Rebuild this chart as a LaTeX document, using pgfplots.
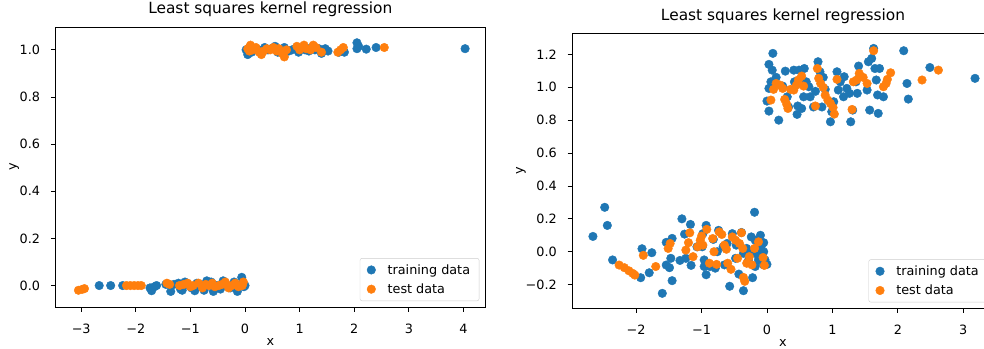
\documentclass[border=0pt]{standalone}
\usepackage{fontspec}
\setmainfont{DejaVu Sans}
\usepackage{pgfplots}
\pgfplotsset{compat=1.18}
\definecolor{tabblue}{HTML}{1F77B4}
\definecolor{taborange}{HTML}{FF7F0E}
\newcommand{\fnt}{\fontsize{12.8}{15.4}\selectfont}
\pgfplotsset{
  lsk/.style={
    scale only axis, axis line style={line width=0.8pt, black},
    tick align=outside, tick pos=left, major tick length=4.5pt,
    every tick/.style={black, line width=0.8pt},
    tick label style={font=\fnt},
    label style={font=\fnt},
    xticklabel style={anchor=base, yshift=-21.5pt, inner sep=0pt},
    yticklabel style={anchor=east, xshift=-10.5pt, inner sep=0pt},
    title={Least squares kernel regression},
    title style={at={(axis description cs:0.5,1)}, anchor=base, yshift=7pt, font=\fontsize{15.4}{18}\selectfont},
    xlabel={x}, ylabel={y},
    xlabel style={at={(axis description cs:0.5,0)}, anchor=base, yshift=-38pt},
    legend cell align=left,
    legend style={at={(1,0)}, anchor=south east, xshift=-6pt, yshift=6pt,
      draw=black!20, rounded corners=2pt, inner xsep=7pt, inner ysep=4pt,
      row sep=4pt, column sep=10pt, font=\fnt},
  },
  trn/.style={only marks, mark=*, mark size=4.3pt, color=tabblue, mark options={draw=tabblue, fill=tabblue, line width=0.4pt}},
  tst/.style={only marks, mark=*, mark size=4.3pt, color=taborange, mark options={draw=taborange, fill=taborange, line width=0.4pt}},
}
\begin{document}
\begin{tikzpicture}
\path[use as bounding box] (0,0) rectangle (984pt,348pt);
\clip (0,0) rectangle (984pt,348pt);
% ---------------- left ----------------
\begin{axis}[lsk, at={(55.3pt,41pt)}, anchor=south west, width=430pt, height=280pt,
  xmin=-3.474, xmax=4.40, ymin=-0.091, ymax=1.097,
  xtick={-3,-2,-1,0,1,2,3,4}, xticklabels={−3,−2,−1,0,1,2,3,4},
  ytick={0,0.2,0.4,0.6,0.8,1.0}, yticklabels={0.0,0.2,0.4,0.6,0.8,1.0},
  ylabel style={at={([xshift=-39pt]axis description cs:0,0.5)}, anchor=base, rotate=0}]
\addplot[trn] coordinates {
(-2.67,0.0) (-2.46,0.0) (-2.24,0.0) (-1.74,-0.01) (-1.71,-0.022) (-1.62,0.0) (-1.66,-0.005)
(-1.45,0.005) (-1.36,-0.025) (-1.30,0.005) (-1.22,0.01) (-1.18,-0.015) (-1.15,-0.02) (-1.10,0.015)
(-1.02,0.0) (-0.98,-0.01) (-0.92,-0.022) (-0.88,0.01) (-0.80,0.0) (-0.75,-0.02) (-0.70,0.02)
(-0.62,0.015) (-0.58,-0.025) (-0.52,0.0) (-0.45,-0.015) (-0.40,0.02) (-0.33,0.0) (-0.27,-0.01)
(-0.20,0.015) (-0.14,-0.025) (-0.10,0.0) (-0.06,0.035) (-0.04,0.01) (-0.02,-0.005) (0.0,0.0)
(0.02,1.0) (0.05,0.98) (0.08,1.01) (0.12,0.99) (0.18,1.005) (0.25,1.0) (0.30,0.985) (0.36,1.01)
(0.42,1.0) (0.48,1.005) (0.55,1.015) (0.60,0.99) (0.66,1.0) (0.72,1.01) (0.80,0.995) (0.86,1.0)
(0.92,1.005) (0.98,0.99) (1.05,1.01) (1.10,1.0) (1.17,0.995) (1.22,1.01) (1.28,1.0) (1.35,1.005)
(1.40,0.985) (1.47,1.005) (1.52,0.995) (1.72,0.99) (1.79,1.0) (1.82,0.99) (2.05,1.03) (2.05,1.005)
(2.08,1.015) (2.22,1.003) (2.40,1.01) (4.03,1.005)
};
\addlegendentry{training data}
\addplot[tst] coordinates {
(-3.05,-0.02) (-2.98,-0.016) (-2.94,-0.013) (-2.17,0.0) (-2.10,0.0) (-2.03,0.0) (-1.96,0.0) (-1.90,0.0)
(-1.43,0.01) (-1.38,0.005) (-1.20,0.0) (-1.12,0.005) (-1.05,0.01) (-1.0,-0.005) (-0.95,0.0)
(-0.85,0.01) (-0.78,-0.01) (-0.72,0.005) (-0.66,0.0) (-0.6,0.01) (-0.55,-0.005) (-0.48,0.0)
(-0.42,0.005) (-0.36,0.015) (-0.30,-0.01) (-0.24,0.0) (-0.18,0.01) (-0.12,-0.005) (-0.05,0.0) (-0.03,0.015)
(0.05,1.005) (0.08,0.995) (0.10,1.02) (0.14,1.0) (0.20,1.01) (0.26,0.99) (0.30,0.98) (0.34,0.995)
(0.40,1.005) (0.46,1.0) (0.52,1.01) (0.58,0.995) (0.62,1.005) (0.68,0.985) (0.72,0.97) (0.76,1.0)
(0.95,1.015) (1.0,1.0) (1.08,1.02) (1.12,1.005) (1.20,1.0) (1.25,1.02) (1.30,1.01) (1.40,0.99)
(1.70,0.99) (1.75,1.0) (1.80,1.01) (2.55,1.01)
};
\addlegendentry{test data}
\end{axis}
% ---------------- right ----------------
\begin{axis}[lsk, at={(572pt,39.7pt)}, anchor=south west, width=422pt, height=275pt,
  xmin=-2.98, xmax=3.47, ymin=-0.344, ymax=1.328,
  xtick={-2,-1,0,1,2,3}, xticklabels={−2,−1,0,1,2,3},
  ytick={-0.2,0,0.2,0.4,0.6,0.8,1.0,1.2}, yticklabels={−0.2,0.0,0.2,0.4,0.6,0.8,1.0,1.2},
  ylabel style={at={([xshift=-49pt]axis description cs:0,0.5)}, anchor=base, rotate=0}]
\addplot[trn] coordinates {
(-2.66,0.093) (-2.48,0.27) (-2.44,0.16) (-2.36,-0.05) (-1.91,0.018) (-1.76,-0.006) (-1.93,-0.158)
(-1.80,-0.128) (-1.60,-0.253) (-1.45,-0.176) (-1.54,-0.081) (-1.49,-0.097) (-1.47,-0.04) (-1.54,0.057)
(-1.45,0.081) (-1.33,-0.053) (-1.30,0.20) (-1.17,0.166) (-1.26,0.107) (-1.16,-0.083) (-1.24,-0.04)
(-1.07,0.03) (-0.99,0.03) (-0.93,0.16) (-0.98,0.11) (-0.96,-0.05) (-0.93,-0.14) (-0.96,-0.09)
(-0.87,-0.09) (-0.82,0.075) (-0.79,-0.10) (-0.76,0.0) (-0.74,0.13) (-0.65,-0.08) (-0.67,0.03)
(-0.61,0.05) (-0.57,-0.21) (-0.53,0.11) (-0.47,0.04) (-0.48,-0.04) (-0.43,-0.136) (-0.39,0.117)
(-0.36,-0.01) (-0.36,-0.237) (-0.28,-0.05) (-0.24,0.09) (-0.22,-0.158) (-0.19,0.24) (-0.18,0.07)
(-0.15,0.01) (-0.13,-0.05) (-0.10,0.10) (-0.08,0.04) (-0.05,0.055) (-0.05,0.0) (-0.03,-0.05)
(0.0,-0.077) (-0.18,-0.09) (-0.23,-0.01) (-0.31,0.02) (-0.05,-0.08) (-0.13,-0.03)
(0.09,1.206) (0.03,1.139) (0.08,1.104) (0.03,0.993) (0.0,0.916) (0.03,0.855) (0.06,1.033) (0.14,1.06)
(0.18,0.80) (0.24,1.007) (0.28,1.098) (0.31,0.942) (0.33,0.88) (0.41,1.104) (0.42,1.033) (0.46,0.835)
(0.47,0.886) (0.49,1.104) (0.53,0.871) (0.56,0.942) (0.57,1.114) (0.60,1.033) (0.64,1.003) (0.66,0.942)
(0.71,0.88) (0.74,0.975) (0.78,1.155) (0.81,1.094) (0.84,0.88) (0.86,1.06) (0.89,0.987) (0.97,0.79)
(0.99,0.851) (1.02,0.912) (1.07,1.094) (1.09,0.983) (1.12,1.033) (1.17,0.942) (1.18,1.064) (1.22,0.993)
(1.26,0.963) (1.28,0.79) (1.31,0.861) (1.36,1.033) (1.38,0.963) (1.40,1.129) (1.42,1.068) (1.53,0.983)
(1.55,1.155) (1.57,0.861) (1.60,1.175) (1.63,1.236) (1.65,1.114) (1.67,1.044) (1.69,0.953) (1.70,0.841)
(1.72,1.114) (1.78,0.942) (2.09,1.222) (2.14,1.023) (2.16,0.928) (2.49,1.12) (3.18,1.054)
};
\addlegendentry{training data}
\addplot[tst] coordinates {
(-2.26,-0.081) (-2.18,-0.097) (-2.11,-0.116) (-2.05,-0.132) (-2.02,-0.142) (-1.89,-0.022) (-1.70,-0.09)
(-1.51,0.02) (-1.48,0.05) (-1.24,0.01) (-1.20,0.055) (-1.18,0.115) (-1.13,-0.03) (-1.06,0.03)
(-1.02,0.07) (-1.00,0.095) (-0.98,0.04) (-0.92,0.136) (-0.88,-0.07) (-0.83,0.08) (-0.81,0.0)
(-0.77,-0.077) (-0.73,0.12) (-0.69,0.105) (-0.65,0.04) (-0.62,0.015) (-0.60,-0.07) (-0.55,-0.107)
(-0.53,0.09) (-0.48,0.07) (-0.45,-0.04) (-0.42,0.05) (-0.39,0.115) (-0.37,0.02) (-0.36,-0.156)
(-0.34,-0.18) (-0.31,-0.07) (-0.27,-0.03) (-0.23,-0.08) (-0.19,0.02) (-0.13,0.06) (-0.06,-0.035) (-0.04,-0.083)
(0.06,0.922) (0.10,0.987) (0.14,1.023) (0.20,1.013) (0.24,0.993) (0.27,0.926) (0.30,0.898) (0.32,0.871)
(0.36,0.987) (0.41,0.983) (0.45,1.013) (0.48,1.044) (0.53,1.068) (0.56,1.007) (0.74,0.886) (0.77,1.114)
(0.79,1.054) (0.82,1.023) (0.86,0.999) (0.89,0.952) (0.93,0.922) (0.97,0.902) (1.01,0.877) (1.03,0.837)
(1.07,1.048) (1.30,0.865) (1.32,1.033) (1.37,1.044) (1.41,1.084) (1.47,1.06) (1.53,1.023) (1.63,1.222)
(1.78,1.003) (1.82,1.023) (1.84,1.048) (1.89,1.088) (2.37,1.044) (2.62,1.104)
};
\addlegendentry{test data}
\end{axis}
\end{tikzpicture}
\end{document}
